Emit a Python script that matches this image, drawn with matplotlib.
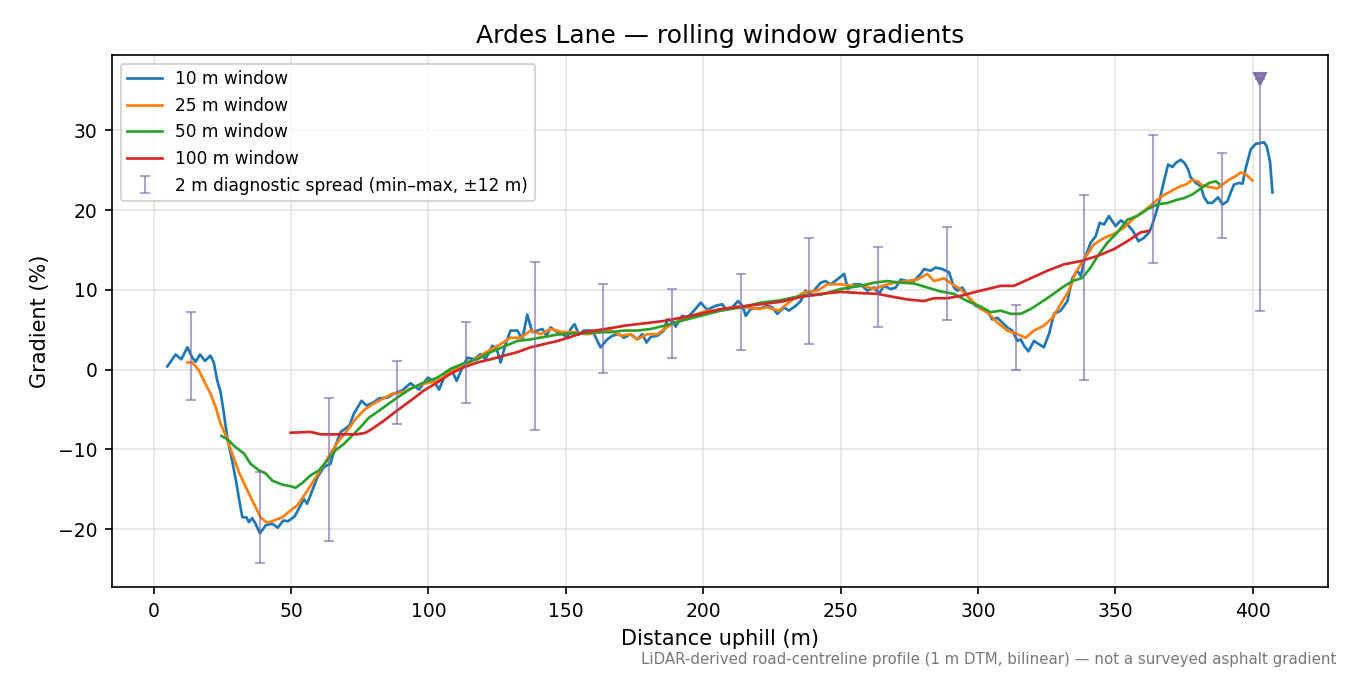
import numpy as np
import matplotlib
matplotlib.use("Agg")
import matplotlib.pyplot as plt

# ---- data ----
w10_x = [5.0, 8.0, 10.1, 12.3, 14.1, 15.3, 16.9, 18.7, 20.7, 21.9, 23.2, 24.4, 25.6, 26.8, 28.6,
         30.2, 31.4, 32.3, 33.8, 34.7, 35.9, 37.1, 38.7, 40.8, 43.2, 45.2, 47.2, 48.9, 51.3, 52.9,
         54.7, 55.9, 57.8, 59.6, 62.0, 64.4, 66.2, 68.1, 71.3, 72.9, 75.7, 77.5, 80.0, 82.0, 85.1,
         87.5, 90.5, 93.5, 96.6, 99.8, 102.0, 103.9, 106.3, 108.3, 110.3, 112.4, 114.2, 116.6,
         119.0, 120.8, 123.3, 124.8, 126.3, 128.1, 129.9, 132.4, 134.2, 136.0, 137.8, 139.7,
         141.5, 143.0, 144.5, 146.9, 148.8, 150.6, 151.8, 153.2, 154.8, 156.6, 159.7, 161.5,
         162.7, 165.1, 167.0, 169.4, 171.2, 173.6, 176.0, 177.9, 179.4, 180.9, 183.3, 185.7,
         187.0, 188.8, 190.0, 192.4, 194.2, 196.7, 199.1, 201.5, 204.5, 207.0, 208.2, 210.6,
         212.7, 214.3, 215.5, 217.3, 220.9, 223.4, 225.2, 227.0, 229.4, 231.2, 233.7, 235.5,
         237.3, 238.5, 240.3, 242.8, 244.6, 246.4, 248.8, 251.3, 252.7, 254.9, 257.3, 259.8,
         262.2, 264.0, 265.8, 268.3, 270.1, 271.9, 274.3, 276.7, 279.2, 280.4, 282.8, 284.6,
         287.1, 289.5, 291.3, 292.5, 294.3, 296.1, 299.2, 302.2, 304.0, 305.2, 307.1, 308.9,
         310.7, 312.5, 314.4, 315.6, 316.8, 318.4, 320.4, 322.2, 324.0, 325.9, 327.7, 330.1,
         332.6, 334.4, 336.2, 337.4, 339.2, 341.0, 342.9, 344.3, 345.9, 347.7, 348.9, 350.1,
         352.0, 354.4, 356.4, 358.4, 360.4, 362.3, 363.5, 364.7, 366.0, 367.7, 369.2, 370.8,
         372.0, 373.8, 375.2, 376.5, 377.4, 379.3, 381.1, 382.3, 383.7, 385.3, 387.4, 389.0,
         390.8, 392.0, 393.2, 395.0, 396.3, 397.5, 399.3, 401.1, 402.9, 404.1, 405.1, 406.3, 407.2]
w10_y = [0.4, 1.9, 1.3, 2.8, 1.5, 1.0, 1.9, 1.1, 1.75, 0.9, -1.4, -2.8, -5.5, -8.5, -11.4,
         -14.3, -16.8, -18.5, -18.5, -19.1, -18.6, -19.3, -20.5, -19.5, -19.3, -19.8, -18.9, -19.0, -18.4, -17.4,
         -16.2, -16.8, -15.1, -13.5, -12.2, -11.8, -9.5, -7.8, -7.0, -5.5, -3.9, -4.5, -4.1, -3.6, -3.5,
         -3.0, -2.6, -1.7, -2.5, -1.0, -1.4, -2.5, -0.5, 0.1, -1.4, 0.3, 1.5, 1.3,
         1.95, 1.3, 3.0, 2.7, 0.9, 3.2, 4.9, 4.9, 3.8, 6.9, 4.7, 4.9,
         5.1, 4.25, 5.3, 4.7, 4.45, 4.0, 5.1, 5.7, 4.4, 4.9, 4.9, 3.6,
         2.8, 3.8, 4.25, 4.45, 4.0, 4.45, 3.8, 4.45, 3.4, 4.1, 4.25, 4.9,
         6.3, 6.1, 5.4, 6.75, 6.5, 7.4, 8.4, 7.5, 8.0, 8.2, 7.6, 7.8,
         8.6, 8.0, 6.75, 7.6, 7.7, 8.0, 7.8, 7.0, 7.8, 7.4, 8.0, 8.6,
         9.9, 9.5, 9.9, 10.9, 11.1, 10.7, 11.3, 12.0, 10.1, 10.7, 10.7, 9.9,
         10.3, 9.5, 10.5, 10.1, 10.3, 11.3, 11.1, 11.1, 12.0, 12.6, 12.4, 12.8,
         12.6, 12.2, 10.3, 9.9, 10.3, 9.25, 8.0, 7.5, 7.0, 6.3, 6.5, 5.9,
         5.3, 4.9, 3.6, 3.8, 3.0, 2.3, 3.6, 3.2, 2.8, 4.5, 7.0, 7.4,
         8.6, 11.5, 12.4, 11.75, 14.25, 15.9, 16.75, 18.4, 18.2, 19.25, 18.6, 18.0,
         18.7, 18.2, 17.4, 16.1, 16.5, 17.2, 18.2, 19.5, 21.1, 23.6, 25.7, 25.4,
         25.9, 26.3, 25.9, 25.1, 24.1, 23.4, 23.0, 21.6, 20.9, 20.9, 21.6, 20.7,
         21.1, 22.2, 23.2, 23.4, 23.3, 25.3, 27.6, 28.3, 28.4, 28.5, 28.0, 26.1, 22.2]

w25_x = [12.3, 14.1, 16.5, 18.9, 20.7, 22.6, 24.4, 26.6, 28.6, 31.0, 34.1, 36.8, 38.9, 41.4,
         43.8, 46.8, 49.3, 52.3, 55.3, 58.3, 61.4, 64.4, 67.4, 70.5, 73.5, 76.5, 79.3, 82.6,
         86.9, 91.1, 93.5, 96.0, 100.2, 102.5, 104.5, 108.7, 112.9, 115.0, 117.8, 122.0, 126.3,
         129.9, 133.6, 137.2, 140.9, 144.5, 148.8, 153.0, 157.9, 162.7, 166.3, 170.0, 173.6,
         176.0, 179.7, 183.3, 187.6, 190.5, 194.2, 198.0, 201.5, 205.0, 208.8, 212.5, 216.1,
         220.0, 223.4, 227.6, 231.8, 236.7, 241.6, 245.2, 250.0, 254.3, 258.5, 262.2, 265.2,
         269.5, 274.3, 278.0, 281.6, 284.0, 287.6, 290.7, 293.7, 297.4, 301.0, 303.4, 307.1,
         310.7, 314.4, 317.4, 320.4, 324.0, 327.1, 330.1, 333.1, 335.6, 338.6, 342.2, 345.9,
         349.5, 353.2, 356.8, 360.4, 362.3, 365.3, 367.7, 369.5, 371.4, 373.8, 375.6, 378.0,
         379.9, 381.7, 384.1, 387.1, 389.0, 391.4, 393.8, 395.6, 397.5, 399.9]
w25_y = [0.9, 0.9, -0.1, -1.8, -3.0, -4.7, -6.8, -8.5, -10.5, -12.8, -15.1, -17.0, -18.5, -19.2,
         -18.9, -18.5, -17.8, -17.0, -15.5, -13.9, -12.2, -10.5, -8.9, -7.6, -6.2, -5.1, -4.4, -3.8,
         -3.0, -2.8, -2.4, -2.0, -1.6, -1.5, -1.2, -0.1, 0.7, 0.9, 1.5, 2.4, 3.2,
         4.0, 4.0, 4.9, 4.45, 5.1, 4.7, 4.7, 4.45, 4.7, 4.9, 4.25, 4.45,
         3.8, 4.45, 4.45, 5.5, 6.0, 6.5, 7.0, 7.4, 7.3, 7.6, 7.9, 7.8,
         7.6, 7.8, 7.4, 8.6, 9.7, 9.9, 10.7, 10.7, 10.5, 10.5, 10.1, 10.5,
         10.9, 11.1, 11.3, 12.0, 11.1, 11.45, 10.7, 10.1, 8.8, 7.6, 7.2, 5.9,
         4.9, 4.45, 4.0, 4.9, 5.5, 6.5, 8.2, 9.9, 12.2, 13.8, 15.7, 16.5,
         17.0, 17.8, 19.0, 19.9, 20.4, 21.3, 21.9, 22.2, 22.6, 23.0, 23.2, 23.75,
         23.6, 23.1, 22.9, 22.7, 23.2, 23.8, 24.25, 24.7, 24.5, 23.7]

w50_x = [24.7, 26.8, 29.8, 32.9, 35.3, 38.3, 40.8, 43.2, 46.8, 49.9, 51.7, 54.1, 57.1, 60.2,
         63.2, 66.2, 69.3, 72.3, 75.3, 78.4, 81.0, 83.8, 88.7, 93.5, 98.4, 103.3, 108.1, 112.9,
         117.8, 122.7, 127.5, 132.4, 137.2, 142.1, 147.0, 151.8, 156.6, 161.5, 166.3, 171.2,
         176.0, 180.9, 185.7, 191.8, 199.1, 206.4, 213.7, 221.0, 228.2, 235.5, 242.8, 250.0,
         257.3, 262.2, 267.0, 271.9, 276.7, 281.6, 286.4, 291.3, 296.1, 301.0, 304.6, 308.3,
         311.9, 315.6, 319.2, 322.8, 326.5, 330.7, 334.4, 338.0, 341.0, 344.1, 347.1, 350.8,
         354.4, 358.0, 361.7, 365.3, 369.0, 372.6, 375.0, 378.0, 381.1, 384.1, 386.6, 387.7]
w50_y = [-8.3, -8.7, -9.7, -10.5, -11.8, -12.6, -13.0, -13.9, -14.4, -14.6, -14.8, -14.2, -13.25, -12.6,
         -11.4, -10.1, -9.3, -8.25, -7.2, -6.0, -5.4, -4.7, -3.5, -2.4, -1.6, -1.0, 0.1, 0.8,
         1.3, 2.2, 2.9, 3.6, 3.8, 4.1, 4.4, 4.55, 4.55, 4.7, 4.7, 4.9,
         4.9, 5.1, 5.5, 6.1, 6.75, 7.4, 7.8, 8.4, 8.7, 9.25, 9.4, 10.1,
         10.5, 10.9, 11.1, 10.9, 10.8, 10.3, 9.8, 9.5, 8.6, 7.9, 7.2, 7.4,
         7.0, 7.0, 7.6, 8.4, 9.25, 10.3, 11.1, 11.5, 12.8, 14.5, 15.9, 17.2,
         18.8, 19.25, 20.1, 20.7, 20.9, 21.3, 21.5, 21.95, 22.7, 23.4, 23.6, 23.3]

w100_x = [49.9, 57.1, 60.8, 66.9, 74.1, 77.2, 79.6, 83.8, 88.7, 93.5, 98.4, 103.3, 108.1, 112.9,
          117.8, 122.7, 127.5, 132.4, 137.2, 142.1, 147.0, 151.8, 156.6, 161.5, 166.3, 171.2,
          176.0, 180.9, 185.7, 191.8, 199.1, 206.4, 213.7, 221.0, 228.2, 235.5, 242.8, 250.0,
          257.3, 263.4, 269.5, 274.3, 280.4, 284.0, 288.9, 293.7, 298.6, 303.4, 308.3, 313.1,
          319.2, 325.3, 331.3, 337.4, 343.5, 349.5, 354.4, 359.2, 362.3]
w100_y = [-7.9, -7.8, -8.1, -8.1, -8.1, -7.9, -7.4, -6.4, -5.1, -3.9, -2.6, -1.6, -0.5, 0.3,
          0.9, 1.3, 1.75, 2.2, 2.8, 3.2, 3.6, 4.1, 4.7, 4.95, 5.2, 5.5,
          5.7, 5.9, 6.1, 6.5, 7.0, 7.6, 7.9, 8.2, 8.5, 9.1, 9.5, 9.75,
          9.6, 9.5, 9.1, 8.8, 8.6, 8.95, 8.95, 9.25, 9.7, 10.1, 10.5, 10.5,
          11.45, 12.4, 13.2, 13.6, 14.25, 15.1, 16.1, 17.2, 17.4]

spread_x = [13.7, 38.7, 63.7, 88.7, 113.7, 138.7, 163.7, 188.7, 213.7, 238.7, 263.7, 288.7,
            313.7, 338.7, 363.7, 388.7, 402.5]
spread_lo = [-3.8, -24.2, -21.5, -6.8, -4.2, -7.5, -0.4, 1.5, 2.5, 3.25, 5.3, 6.2,
             -0.1, -1.3, 13.4, 16.5, 7.3]
spread_hi = [7.2, -12.8, -3.6, 1.1, 6.0, 13.5, 10.7, 10.1, 12.0, 16.5, 15.4, 17.9,
             8.1, 21.9, 29.4, 27.2, 36.4]
clipped_x = [402.5]
clipped_y = [36.4]

title = "Ardes Lane — rolling window gradients"
note = "LiDAR-derived road-centreline profile (1 m DTM, bilinear) — not a surveyed asphalt gradient"

# ---- plot ----
fig, ax = plt.subplots(figsize=(9, 4.5), dpi=150)
fig.subplots_adjust(left=0.083, right=0.9835, top=0.9185, bottom=0.1304)

lw = 1.3
ax.plot(w10_x, w10_y, color="#1f77b4", lw=lw, label="10 m window")
ax.plot(w25_x, w25_y, color="#ff7f0e", lw=lw, label="25 m window")
ax.plot(w50_x, w50_y, color="#2ca02c", lw=lw, label="50 m window")
ax.plot(w100_x, w100_y, color="#d62728", lw=lw, label="100 m window")

sx = np.array(spread_x)
lo = np.array(spread_lo)
hi = np.array(spread_hi)
mid = (lo + hi) / 2
err = (hi - lo) / 2
ax.errorbar(sx, mid, yerr=err, fmt="none", ecolor="#7b68a6", alpha=0.6,
            elinewidth=1.0, capsize=2.5, capthick=1.0,
            label="2 m diagnostic spread (min–max, ±12 m)")
ax.plot(clipped_x, clipped_y, linestyle="none", marker="v", markersize=6,
        color="#7b68a6", alpha=0.9)

ax.grid(True, color="#cccccc", alpha=0.5, lw=0.8)
ax.set_axisbelow(True)
ax.set_title(title, fontsize=12)
ax.set_xlabel("Distance uphill (m)", fontsize=10)
ax.set_ylabel("Gradient (%)", fontsize=10)
ax.tick_params(labelsize=9)
ax.legend(loc="upper left", fontsize=8.2)

fig.text(0.99, 0.012, note, ha="right", va="bottom", fontsize=7.2, color="#777777")

fig.savefig("out.png", dpi=150)
